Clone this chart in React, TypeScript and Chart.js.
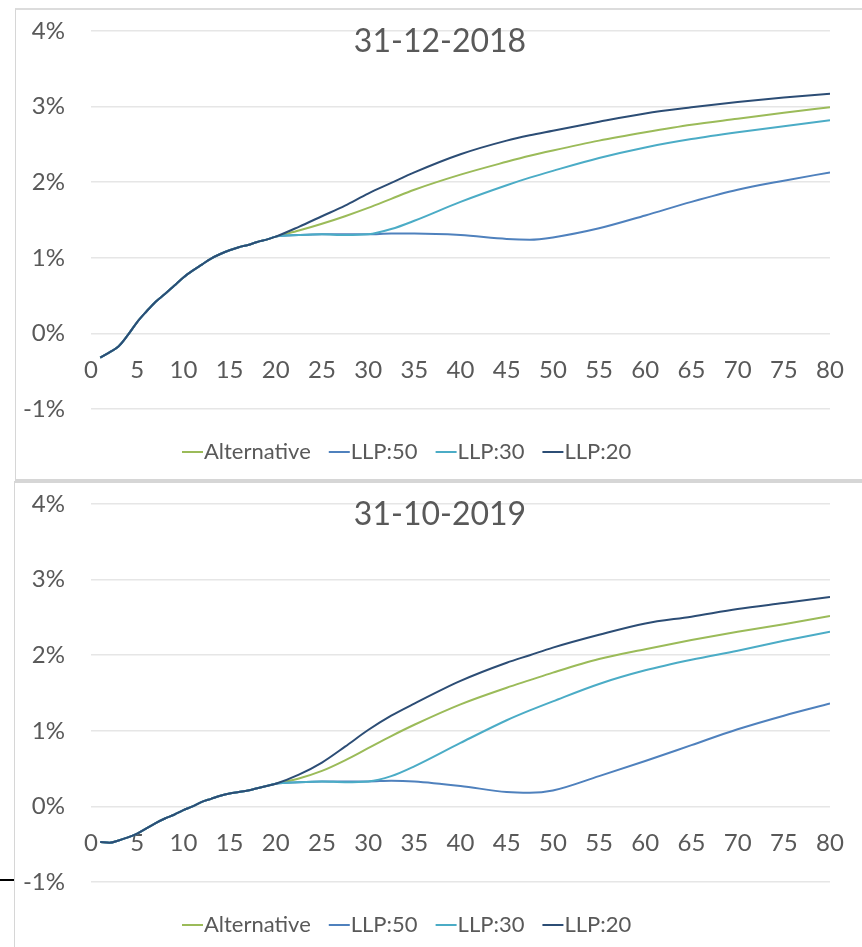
import React, { useEffect, useRef } from 'react';
import { Chart, registerables } from 'chart.js';

Chart.register(...registerables);

// Maturity (years) at which values are read
const xValues = [
  1, 2, 3, 4, 5, 6, 7, 8, 9, 10, 11, 12, 13, 14, 15, 16, 17, 18, 19, 20,
  22.5, 25, 27.5, 30, 32.5, 35, 40, 45, 47.5, 50, 55, 60, 65, 70, 75, 80,
];
const xTickStep = 5;
const yTicks = [-1, 0, 1, 2, 3, 4];

const seriesLabels = ['Alternative', 'LLP:50', 'LLP:30', 'LLP:20'];
const seriesColors = ['#9BBB59', '#4F81BD', '#4BACC6', '#2C4D75'];

// 31-12-2018 (values in %)
const shared2018 = [-0.32, -0.25, -0.17, -0.02, 0.15, 0.29, 0.42, 0.52, 0.63, 0.74, 0.83, 0.91, 0.99, 1.05, 1.1, 1.14, 1.17, 1.21, 1.24, 1.28];
const alternative2018 = [...shared2018, 1.36, 1.45, 1.55, 1.66, 1.78, 1.9, 2.1, 2.27, 2.35, 2.42, 2.55, 2.66, 2.76, 2.84, 2.92, 2.99];
const llp50_2018 = [...shared2018, 1.3, 1.31, 1.31, 1.31, 1.32, 1.32, 1.3, 1.25, 1.24, 1.27, 1.39, 1.56, 1.74, 1.9, 2.02, 2.13];
const llp30_2018 = [...shared2018, 1.3, 1.31, 1.3, 1.31, 1.38, 1.49, 1.74, 1.96, 2.06, 2.15, 2.32, 2.46, 2.57, 2.66, 2.74, 2.82];
const llp20_2018 = [...shared2018, 1.41, 1.55, 1.69, 1.85, 1.99, 2.13, 2.37, 2.55, 2.62, 2.68, 2.8, 2.91, 2.99, 3.06, 3.12, 3.17];

// 31-10-2019 (values in %)
const shared2019 = [-0.47, -0.48, -0.45, -0.41, -0.36, -0.29, -0.22, -0.16, -0.11, -0.05, 0.0, 0.06, 0.1, 0.14, 0.17, 0.19, 0.21, 0.24, 0.27, 0.3];
const alternative2019 = [...shared2019, 0.37, 0.47, 0.61, 0.77, 0.93, 1.08, 1.35, 1.57, 1.67, 1.77, 1.95, 2.08, 2.2, 2.31, 2.41, 2.52];
const llp50_2019 = [...shared2019, 0.32, 0.33, 0.33, 0.33, 0.34, 0.33, 0.27, 0.19, 0.18, 0.21, 0.4, 0.6, 0.81, 1.02, 1.2, 1.36];
const llp30_2019 = [...shared2019, 0.32, 0.33, 0.32, 0.33, 0.4, 0.53, 0.84, 1.14, 1.27, 1.39, 1.62, 1.8, 1.94, 2.06, 2.19, 2.31];
const llp20_2019 = [...shared2019, 0.42, 0.58, 0.79, 1.01, 1.2, 1.36, 1.66, 1.9, 2.0, 2.1, 2.27, 2.42, 2.51, 2.61, 2.69, 2.77];

const FONT = 'Lato, "Open Sans", sans-serif';
const TEXT = '#595959';
const CLEAR = 'rgba(0,0,0,0)';

type PanelProps = {
  title: string;
  values: number[][];
  top: number;
  height: number;
  padTop: number;
  padBottom: number;
};

function makeOverlay(title: string) {
  return {
    id: 'overlay',
    afterDraw(chart: any) {
      const { ctx, chartArea } = chart;
      ctx.save();
      ctx.fillStyle = TEXT;
      ctx.font = `32px ${FONT}`;
      ctx.textAlign = 'center';
      ctx.textBaseline = 'middle';
      ctx.fillText(title, chartArea.left + 349, chartArea.top + 11);

      ctx.font = `22px ${FONT}`;
      ctx.textAlign = 'left';
      let x = chartArea.left + 91;
      const y = chartArea.bottom + 43;
      chart.data.datasets
        .slice()
        .sort((a: any, b: any) => a.legendIndex - b.legendIndex)
        .forEach((ds: any) => {
          ctx.strokeStyle = ds.borderColor;
          ctx.lineWidth = 2;
          ctx.beginPath();
          ctx.moveTo(x, y);
          ctx.lineTo(x + 21, y);
          ctx.stroke();
          x += 22;
          ctx.fillStyle = TEXT;
          ctx.fillText(ds.label, x, y);
          x += ctx.measureText(ds.label).width + 18;
        });
      ctx.restore();
    },
  };
}

function Panel({ title, values, top, height, padTop, padBottom }: PanelProps) {
  const ref = useRef<HTMLCanvasElement | null>(null);
  useEffect(() => {
    if (!ref.current) return;
    const chart = new Chart(ref.current, {
      type: 'line',
      data: {
        datasets: seriesLabels.map((label, i) => ({
          label,
          legendIndex: i,
          data: xValues.map((x, j) => ({ x, y: values[i][j] })),
          borderColor: seriesColors[i],
          backgroundColor: seriesColors[i],
          borderWidth: 2,
          pointRadius: 0,
          cubicInterpolationMode: 'monotone',
          fill: false,
          order: 4 - i,
        })) as any,
      },
      options: {
        responsive: false,
        maintainAspectRatio: false,
        animation: false,
        events: [],
        layout: { padding: { left: 0, right: 32, top: padTop, bottom: padBottom } },
        plugins: {
          legend: { display: false },
          tooltip: { enabled: false },
          title: { display: false },
        },
        scales: {
          x: {
            type: 'linear',
            min: 0,
            max: 80,
            position: { y: 0 } as any,
            grid: {
              display: true,
              drawOnChartArea: false,
              drawTicks: true,
              tickLength: 22,
              color: CLEAR,
              tickColor: CLEAR,
            },
            border: { display: false },
            ticks: {
              stepSize: xTickStep,
              padding: 0,
              color: TEXT,
              font: { family: FONT, size: 24 },
              maxRotation: 0,
              autoSkip: false,
            },
            afterFit: (s: any) => {
              s.height = 0;
            },
          },
          y: {
            type: 'linear',
            min: yTicks[0],
            max: yTicks[yTicks.length - 1],
            position: 'left',
            grid: {
              color: '#e6e6e6',
              lineWidth: 1.5,
              drawTicks: true,
              tickLength: 26,
              tickColor: CLEAR,
            },
            border: { display: false },
            ticks: {
              stepSize: 1,
              padding: 0,
              color: TEXT,
              font: { family: FONT, size: 24 },
              callback: (v: any) => `${v}%`,
            },
            afterFit: (s: any) => {
              s.width = 75;
            },
          },
        },
      },
      plugins: [makeOverlay(title)],
    });
    return () => chart.destroy();
  }, []);
  return (
    <canvas
      ref={ref}
      width={846}
      height={height}
      style={{ position: 'absolute', left: 16, top, width: 846, height }}
    />
  );
}

export default function App() {
  return (
    <div
      style={{
        position: 'fixed',
        left: 0,
        top: 0,
        width: 862,
        height: 947,
        overflow: 'hidden',
        background: '#ffffff',
      }}
    >
      <div
        style={{
          position: 'absolute',
          left: 15,
          top: 8,
          width: 1000,
          height: 473,
          boxSizing: 'border-box',
          borderLeft: '1px solid #d6d6d6',
          borderTop: '2px solid #dcdcdc',
          borderBottom: '2px solid #d6d6d6',
        }}
      />
      <div
        style={{
          position: 'absolute',
          left: 14,
          top: 481,
          width: 1000,
          height: 1000,
          boxSizing: 'border-box',
          borderLeft: '1px solid #d6d6d6',
          borderTop: '2px solid #d6d6d6',
        }}
      />
      <div style={{ position: 'absolute', left: 0, top: 879, width: 14, height: 2, background: '#000' }} />
      <Panel
        title="31-12-2018"
        values={[alternative2018, llp50_2018, llp30_2018, llp20_2018]}
        top={10}
        height={468}
        padTop={21}
        padBottom={69}
      />
      <Panel
        title="31-10-2019"
        values={[alternative2019, llp50_2019, llp30_2019, llp20_2019]}
        top={484}
        height={461}
        padTop={20}
        padBottom={63}
      />
    </div>
  );
}
